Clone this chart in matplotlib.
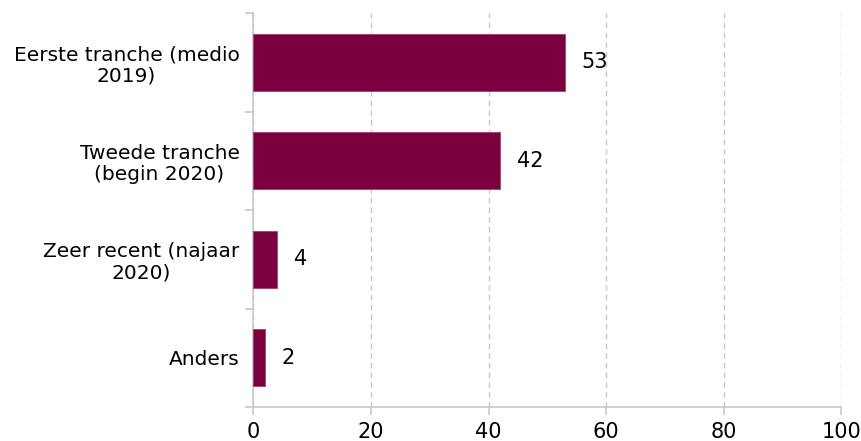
import numpy as np
import matplotlib.pyplot as plt
from matplotlib.ticker import FixedLocator

categories = ["Eerste tranche (medio\n2019)", "Tweede tranche\n(begin 2020)",
              "Zeer recent (najaar\n2020)", "Anders"]
values = [53, 42, 4, 2]
x_ticks = [0, 20, 40, 60, 80, 100]

bar_color = "#7b003f"
axis_color = "#c8c8c8"

fig = plt.figure(figsize=(8.62, 4.41), dpi=100)
ax = fig.add_axes([0.294, 0.077, 0.682, 0.8935])

y = np.arange(len(categories))
ax.barh(y, values, height=0.58, color=bar_color, edgecolor="#a0406e", linewidth=0.6, zorder=3)

for yi, v in zip(y, values):
    ax.annotate(str(v), xy=(v, yi), xytext=(12, 0), textcoords="offset points",
                va="center", ha="left", fontsize=15, color="black")

ax.set_xlim(0, 100)
ax.set_ylim(len(categories) - 0.5, -0.5)
ax.set_xticks(x_ticks)
ax.set_xticklabels([str(t) for t in x_ticks], fontsize=15)

ax.set_yticks(y)
ax.set_yticklabels(categories, fontsize=14.5, ha="right", multialignment="center",
                   linespacing=1.15)
ax.tick_params(axis="y", which="major", length=0, pad=10)
ax.yaxis.set_minor_locator(FixedLocator(np.arange(-0.5, len(categories), 1.0)))
ax.tick_params(axis="y", which="minor", length=6, color=axis_color, width=1.2)
ax.tick_params(axis="x", length=6, color=axis_color, width=1.2, pad=5)

ax.grid(axis="x", linestyle=(0, (4, 3)), color="#c8c8c8", linewidth=1, zorder=0)
for s in ["top", "right"]:
    ax.spines[s].set_visible(False)
for s in ["left", "bottom"]:
    ax.spines[s].set_color(axis_color)
    ax.spines[s].set_linewidth(1.2)

fig.savefig("out.png", dpi=100)
